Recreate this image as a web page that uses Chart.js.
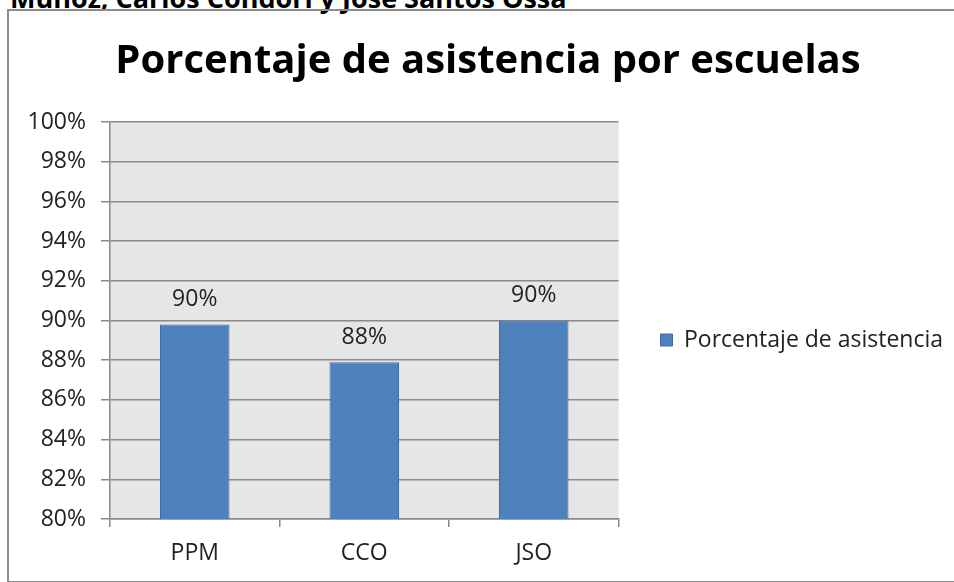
<!DOCTYPE html>
<html>
<head>
<meta charset="utf-8">
<script src="https://cdn.jsdelivr.net/npm/chart.js@4.4.0/dist/chart.umd.min.js"></script>
<style>
  body { margin: 0; background: #fff; overflow: hidden; }
  #page { position: relative; width: 954px; height: 582px; overflow: hidden; }
  .header { position: absolute; left: 10px; top: -15px; font: bold 27px/26px "Open Sans", sans-serif; color: #000; white-space: nowrap; }
  .frame { position: absolute; left: 7px; top: 9px; width: 1000px; height: 570px; border: 2px solid #8c8c8c; }
  canvas { position: absolute; left: 0; top: 0; }
</style>
</head>
<body>
<div id="page">
  <div class="header">Muñoz, Carlos Condori y José Santos Ossa</div>
  <div class="frame"></div>
  <canvas id="myChart" width="954" height="582"></canvas>
</div>
<script>
const chartTitle = 'Porcentaje de asistencia por escuelas';
const seriesLabel = 'Porcentaje de asistencia';
const schools = ['PPM', 'CCO', 'JSO'];
const attendance = [89.8, 87.9, 90.0];
const yMin = 80;
const yMax = 100;
const yStep = 2;

const FONT = '"Open Sans", sans-serif';
const LABEL_SIZE = 23;
const ctx = document.getElementById('myChart');

// size the legend so the plot ends at x=617, y labels stay inside the axis box
const measure = document.createElement('canvas').getContext('2d');
measure.font = LABEL_SIZE + 'px ' + FONT;
const legendWidth = 42 + 12 + LABEL_SIZE + measure.measureText(seriesLabel).width;
const padRight = Math.max(0, 954 - 617 - legendWidth);
const padLeft = Math.min(padRight + 22, 24);

const plotBackground = {
    id: 'plotBackground',
    beforeDraw(chart) {
        const {ctx, chartArea: a} = chart;
        ctx.save();
        ctx.fillStyle = '#e6e6e6';
        ctx.fillRect(a.left, a.top, a.right - a.left, a.bottom - a.top);
        ctx.restore();
    }
};

const barLabels = {
    id: 'barLabels',
    afterDatasetsDraw(chart) {
        const {ctx} = chart;
        const values = chart.data.datasets[0].data;
        ctx.save();
        ctx.font = LABEL_SIZE + 'px ' + FONT;
        ctx.fillStyle = '#222';
        ctx.textAlign = 'center';
        ctx.textBaseline = 'middle';
        chart.getDatasetMeta(0).data.forEach((bar, i) => {
            ctx.fillText(Math.round(values[i]) + '%', bar.x, bar.y - 25);
        });
        ctx.restore();
    }
};

const chart = new Chart(ctx, {
    type: 'bar',
    data: {
        labels: schools,
        datasets: [{
            label: seriesLabel,
            data: attendance,
            backgroundColor: '#4f81bd',
            borderColor: '#3d6da6',
            borderWidth: 1,
            barPercentage: 0.41,
            categoryPercentage: 1
        }]
    },
    options: {
        responsive: false,
        animation: false,
        layout: {
            padding: { left: padLeft, right: padRight, top: 0, bottom: 0 }
        },
        plugins: {
            title: {
                display: true,
                text: chartTitle,
                color: '#000',
                font: { family: FONT, size: 40, weight: 'bold', lineHeight: 1.2 },
                padding: { top: 38, bottom: 36 }
            },
            legend: {
                position: 'right',
                fullSize: false,
                maxWidth: 400,
                title: {
                    display: true,
                    text: '',
                    font: { size: 10, lineHeight: 1 },
                    padding: { top: 29, bottom: 0 }
                },
                labels: {
                    boxWidth: 12,
                    boxHeight: 12,
                    padding: 42,
                    color: '#222',
                    font: { family: FONT, size: LABEL_SIZE }
                }
            },
            tooltip: { enabled: false }
        },
        scales: {
            x: {
                grid: { drawOnChartArea: false, tickLength: 8, color: '#8a8a8a', lineWidth: 1.5 },
                border: { color: '#8a8a8a', width: 1.5 },
                ticks: { color: '#222', font: { family: FONT, size: LABEL_SIZE }, padding: 13 },
                afterFit(scale) { scale.height = 63; }
            },
            y: {
                min: yMin,
                max: yMax,
                ticks: {
                    stepSize: yStep,
                    color: '#222',
                    font: { family: FONT, size: LABEL_SIZE },
                    padding: 15,
                    callback: v => v + '%'
                },
                grid: { tickLength: 9, color: '#8a8a8a', lineWidth: 1.5 },
                border: { color: '#8a8a8a', width: 1.5 },
                afterFit(scale) { scale.width = 110 - padLeft; }
            }
        }
    },
    plugins: [plotBackground, barLabels]
});
</script>
</body>
</html>
